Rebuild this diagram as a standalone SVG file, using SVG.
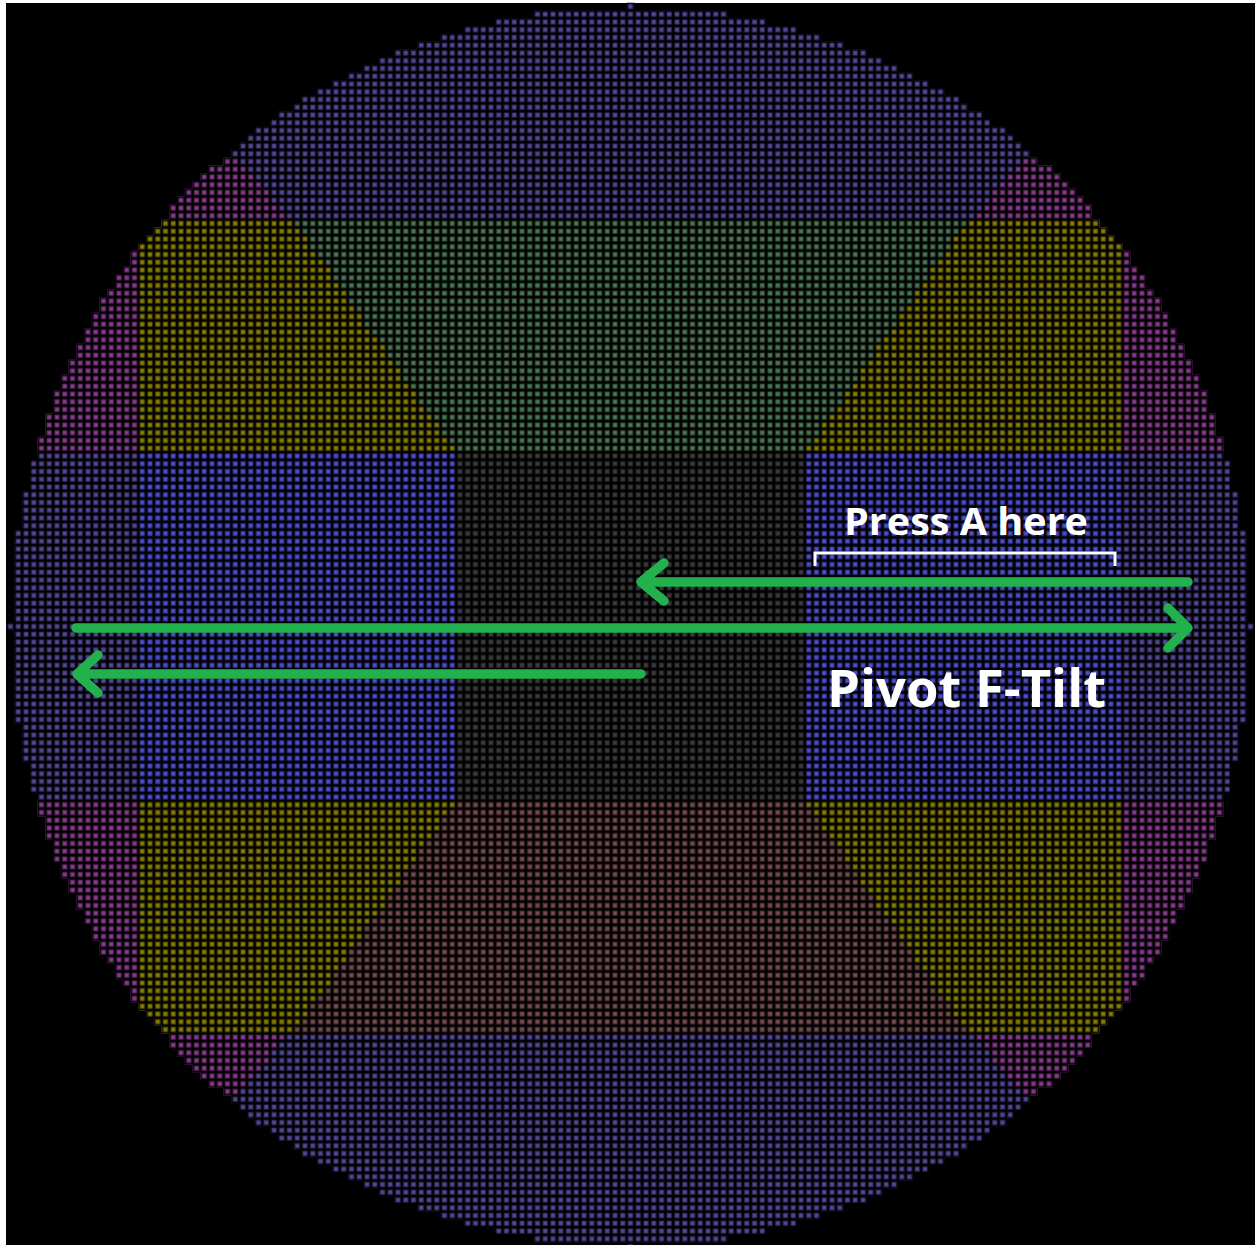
<svg xmlns="http://www.w3.org/2000/svg" width="1255" height="1245" viewBox="0 0 1255 1245">
<style>
  .arrow{fill:none;stroke:#22b14c;stroke-width:9.5;stroke-linecap:round;stroke-linejoin:round}
  .label{fill:#ffffff;font-family:"Open Sans","Noto Sans","DejaVu Sans",sans-serif;font-weight:700}
  .bracket{fill:none;stroke:#ffffff;stroke-width:3}
</style>
<defs>
  <!-- stepped outline of the cell disc, in cell units (one unit = one cell) -->
  <path id="rim" d="M-0.5 -80.5 H0.5 V-79.5 H12.5 V-78.5 H17.5 V-77.5 H21.5 V-76.5 H24.5 V-75.5 H27.5 V-74.5 H30.5 V-73.5 H32.5 V-72.5 H34.5 V-71.5 H36.5 V-70.5 H38.5 V-69.5 H40.5 V-68.5 H42.5 V-67.5 H43.5 V-66.5 H45.5 V-65.5 H46.5 V-64.5 H48.5 V-63.5 H49.5 V-62.5 H50.5 V-61.5 H51.5 V-60.5 H52.5 V-59.5 H54.5 V-58.5 H55.5 V-57.5 H56.5 V-56.5 H57.5 V-55.5 H58.5 V-54.5 H59.5 V-52.5 H60.5 V-51.5 H61.5 V-50.5 H62.5 V-49.5 H63.5 V-48.5 H64.5 V-46.5 H65.5 V-45.5 H66.5 V-43.5 H67.5 V-42.5 H68.5 V-40.5 H69.5 V-38.5 H70.5 V-36.5 H71.5 V-34.5 H72.5 V-32.5 H73.5 V-30.5 H74.5 V-27.5 H75.5 V-24.5 H76.5 V-21.5 H77.5 V-17.5 H78.5 V-12.5 H79.5 V-0.5 H80.5 V0.5 H79.5 V12.5 H78.5 V17.5 H77.5 V21.5 H76.5 V24.5 H75.5 V27.5 H74.5 V30.5 H73.5 V32.5 H72.5 V34.5 H71.5 V36.5 H70.5 V38.5 H69.5 V40.5 H68.5 V42.5 H67.5 V43.5 H66.5 V45.5 H65.5 V46.5 H64.5 V48.5 H63.5 V49.5 H62.5 V50.5 H61.5 V51.5 H60.5 V52.5 H59.5 V54.5 H58.5 V55.5 H57.5 V56.5 H56.5 V57.5 H55.5 V58.5 H54.5 V59.5 H52.5 V60.5 H51.5 V61.5 H50.5 V62.5 H49.5 V63.5 H48.5 V64.5 H46.5 V65.5 H45.5 V66.5 H43.5 V67.5 H42.5 V68.5 H40.5 V69.5 H38.5 V70.5 H36.5 V71.5 H34.5 V72.5 H32.5 V73.5 H30.5 V74.5 H27.5 V75.5 H24.5 V76.5 H21.5 V77.5 H17.5 V78.5 H12.5 V79.5 H0.5 V80.5 H-0.5 V79.5 H-12.5 V78.5 H-17.5 V77.5 H-21.5 V76.5 H-24.5 V75.5 H-27.5 V74.5 H-30.5 V73.5 H-32.5 V72.5 H-34.5 V71.5 H-36.5 V70.5 H-38.5 V69.5 H-40.5 V68.5 H-42.5 V67.5 H-43.5 V66.5 H-45.5 V65.5 H-46.5 V64.5 H-48.5 V63.5 H-49.5 V62.5 H-50.5 V61.5 H-51.5 V60.5 H-52.5 V59.5 H-54.5 V58.5 H-55.5 V57.5 H-56.5 V56.5 H-57.5 V55.5 H-58.5 V54.5 H-59.5 V52.5 H-60.5 V51.5 H-61.5 V50.5 H-62.5 V49.5 H-63.5 V48.5 H-64.5 V46.5 H-65.5 V45.5 H-66.5 V43.5 H-67.5 V42.5 H-68.5 V40.5 H-69.5 V38.5 H-70.5 V36.5 H-71.5 V34.5 H-72.5 V32.5 H-73.5 V30.5 H-74.5 V27.5 H-75.5 V24.5 H-76.5 V21.5 H-77.5 V17.5 H-78.5 V12.5 H-79.5 V0.5 H-80.5 V-0.5 H-79.5 V-12.5 H-78.5 V-17.5 H-77.5 V-21.5 H-76.5 V-24.5 H-75.5 V-27.5 H-74.5 V-30.5 H-73.5 V-32.5 H-72.5 V-34.5 H-71.5 V-36.5 H-70.5 V-38.5 H-69.5 V-40.5 H-68.5 V-42.5 H-67.5 V-43.5 H-66.5 V-45.5 H-65.5 V-46.5 H-64.5 V-48.5 H-63.5 V-49.5 H-62.5 V-50.5 H-61.5 V-51.5 H-60.5 V-52.5 H-59.5 V-54.5 H-58.5 V-55.5 H-57.5 V-56.5 H-56.5 V-57.5 H-55.5 V-58.5 H-54.5 V-59.5 H-52.5 V-60.5 H-51.5 V-61.5 H-50.5 V-62.5 H-49.5 V-63.5 H-48.5 V-64.5 H-46.5 V-65.5 H-45.5 V-66.5 H-43.5 V-67.5 H-42.5 V-68.5 H-40.5 V-69.5 H-38.5 V-70.5 H-36.5 V-71.5 H-34.5 V-72.5 H-32.5 V-73.5 H-30.5 V-74.5 H-27.5 V-75.5 H-24.5 V-76.5 H-21.5 V-77.5 H-17.5 V-78.5 H-12.5 V-79.5 H-0.5 Z"/>
  <clipPath id="disc"><use href="#rim"/></clipPath>

  <!-- upper-left diagonal corner of the outer ring -->
  <path id="corner" d="M-81 -22.5 H-44.5 V-53.5 H-45.5 V-54.5 H-46.5 V-56.5 H-47.5 V-57.5 H-48.5 V-58.5 H-49.5 V-59.5 H-50.5 V-60.5 H-51.5 V-81 H-81 Z"/>

  <!-- left half of the upper wedge above the centre square -->
  <path id="wedge" d="M0.5 -52.5 H-43.5 V-51.5 H-42.5 V-50.5 H-41.5 V-48.5 H-40.5 V-47.5 H-39.5 V-46.5 H-38.5 V-44.5 H-37.5 V-43.5 H-36.5 V-41.5 H-35.5 V-40.5 H-34.5 V-38.5 H-33.5 V-37.5 H-32.5 V-36.5 H-31.5 V-34.5 H-30.5 V-33.5 H-29.5 V-31.5 H-28.5 V-30.5 H-27.5 V-28.5 H-26.5 V-27.5 H-25.5 V-26.5 H-24.5 V-24.5 H-23.5 V-23.5 H-22.5 V-22.5 H0.5 Z"/>

  <!-- black gaps and dim rims between the cells, 4x4 cells per tile -->
  <pattern id="cells" patternUnits="userSpaceOnUse" x="-0.5" y="-0.5" width="4" height="4">
    <g id="gaps" fill="#000">
      <rect x="0" y="0" width="0.18" height="4"/>
      <rect x="0.82" y="0" width="0.36" height="4"/>
      <rect x="1.82" y="0" width="0.36" height="4"/>
      <rect x="2.82" y="0" width="0.36" height="4"/>
      <rect x="3.82" y="0" width="0.18" height="4"/>
    </g>
    <use href="#gaps" transform="matrix(0 1 1 0 0 0)"/>
    <g id="rims" fill="none" stroke="#000" stroke-opacity="0.32" stroke-width="0.12">
      <rect x="0.24" y="0.24" width="0.52" height="0.52"/>
      <rect x="1.24" y="0.24" width="0.52" height="0.52"/>
      <rect x="2.24" y="0.24" width="0.52" height="0.52"/>
      <rect x="3.24" y="0.24" width="0.52" height="0.52"/>
    </g>
    <use href="#rims" y="1"/>
    <use href="#rims" y="2"/>
    <use href="#rims" y="3"/>
  </pattern>
</defs>

<!-- frame -->
<rect x="0" y="0" width="1255" height="1245" fill="#ffffff"/>
<rect x="6" y="3" width="1249" height="1242" fill="#000000"/>

<!-- cell field -->
<g id="field" transform="translate(630.5 626.5) scale(7.75)">
  <g clip-path="url(#disc)">
    <use href="#rim" fill="#56499c"/>
    <g id="diagonal-corners" fill="#8c3c91">
      <use href="#corner"/>
      <use href="#corner" transform="scale(-1 1)"/>
      <use href="#corner" transform="scale(1 -1)"/>
      <use href="#corner" transform="scale(-1 -1)"/>
    </g>
    <g id="diagonal-blocks" fill="#8c8200">
      <rect x="-63.5" y="-52.5" width="41" height="30"/>
      <rect x="22.5" y="-52.5" width="41" height="30"/>
      <rect x="-63.5" y="22.5" width="41" height="30"/>
      <rect x="22.5" y="22.5" width="41" height="30"/>
    </g>
    <g id="up-wedge" fill="#4e7a58">
      <use href="#wedge"/>
      <use href="#wedge" transform="scale(-1 1)"/>
    </g>
    <g id="down-wedge" fill="#7a4e50">
      <use href="#wedge" transform="scale(1 -1)"/>
      <use href="#wedge" transform="scale(-1 -1)"/>
    </g>
    <rect id="side-band" x="-63.5" y="-22.5" width="127" height="45" fill="#5050d8"/>
    <rect id="dead-zone" x="-22.5" y="-22.5" width="45" height="45" fill="#3d3d3d"/>
    <rect x="-81" y="-81" width="162" height="162" fill="url(#cells)"/>
  </g>
</g>

<!-- arrows -->
<g id="connectors">
  <path class="arrow" d="M1188 582 H641 M664 563 L641 582 L664 601"/>
  <path class="arrow" d="M76 628 H1188 M1168 608 L1188 628 L1168 648"/>
  <path class="arrow" d="M641 674 H77 M98 655 L77 674 L98 693"/>
</g>

<!-- labels -->
<g id="labels">
  <path class="bracket" d="M815 566 V553 H1115 V566"/>
  <text class="label" x="844" y="535" font-size="38" textLength="244" lengthAdjust="spacingAndGlyphs">Press A here</text>
  <text class="label" x="827" y="707" font-size="52" textLength="279" lengthAdjust="spacingAndGlyphs">Pivot F-Tilt</text>
</g>
</svg>
